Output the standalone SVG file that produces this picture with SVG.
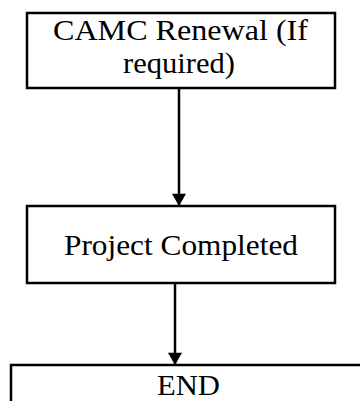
<svg xmlns="http://www.w3.org/2000/svg" width="360" height="401" viewBox="0 0 360 401">
<style>
.box{fill:#fff;stroke:#000;stroke-width:2.5}
.t{font-family:"Liberation Serif","Times New Roman",serif;font-size:29px;fill:#000;text-anchor:middle}
.c{stroke:#000;stroke-width:2.5;fill:none}
</style>
<defs>
<marker id="ah" markerUnits="userSpaceOnUse" markerWidth="18" markerHeight="14" refX="14" refY="8" orient="auto" viewBox="0 0 14 16">
<path d="M0,0 L14,8 L0,16 Z" fill="#000"/>
</marker>
</defs>
<rect width="360" height="401" fill="#fff"/>
<g id="connectors">
<line class="c" x1="179" y1="88" x2="179" y2="206" marker-end="url(#ah)"/>
<line class="c" x1="175" y1="283" x2="175" y2="365" marker-end="url(#ah)"/>
</g>
<g id="node1">
<rect class="box" x="27" y="13" width="308" height="75"/>
<text class="t" x="180.5" y="40" textLength="255" lengthAdjust="spacingAndGlyphs">CAMC Renewal (If</text>
<text class="t" x="179" y="73" textLength="112" lengthAdjust="spacingAndGlyphs">required)</text>
</g>
<g id="node2">
<rect class="box" x="27" y="206" width="308" height="77"/>
<text class="t" x="181" y="255" textLength="234" lengthAdjust="spacingAndGlyphs">Project Completed</text>
</g>
<g id="node3">
<rect class="box" x="11" y="365" width="360" height="50"/>
<text class="t" x="188.5" y="395" textLength="63" lengthAdjust="spacingAndGlyphs">END</text>
</g>
</svg>
